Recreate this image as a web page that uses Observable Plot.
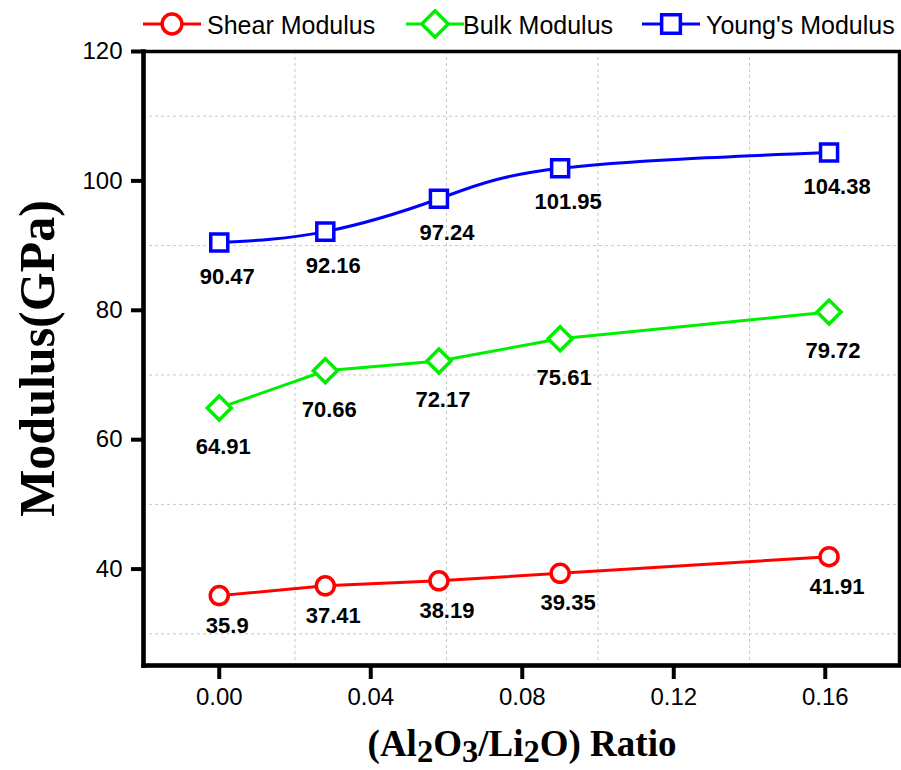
<!DOCTYPE html>
<html><head><meta charset="utf-8">
<script src="https://cdn.jsdelivr.net/npm/d3@7"></script>
<script src="https://cdn.jsdelivr.net/npm/@observablehq/plot@0.6"></script>
<style>
body{margin:0;background:#fff;}
#wrap{position:relative;width:901px;height:770px;overflow:hidden;font-family:"Liberation Sans",Arial,sans-serif;background:#fff;}
#wrap > svg.plot{position:absolute;left:0;top:0;}
.legsym{position:absolute;top:10px;}
.legtxt{position:absolute;top:10px;font-size:25px;line-height:30px;color:#000;white-space:nowrap;}
#xtitle{position:absolute;left:522px;top:725px;transform:translateX(-50%);font-family:"Liberation Serif",serif;font-weight:bold;font-size:37px;line-height:1;white-space:nowrap;color:#000;}
#xtitle .s{display:inline-block;line-height:0.7;position:relative;top:6px;font-size:0.88em;}
</style></head>
<body><div id="wrap"></div>
<script>
// ---- data ----
const ratio = [0, 0.028, 0.058, 0.09, 0.161];
const shear = [35.9, 37.41, 38.19, 39.35, 41.91];
const bulk = [64.91, 70.66, 72.17, 75.61, 79.72];
const young = [90.47, 92.16, 97.24, 101.95, 104.38];
const seriesNames = ["Shear Modulus", "Bulk Modulus", "Young's Modulus"];
const xTicks = [0, 0.04, 0.08, 0.12, 0.16];
const yTicks = [40, 60, 80, 100, 120];
const xGrid = [0.02, 0.06, 0.10, 0.14];
const yGrid = [30, 50, 70, 90, 110];
const yTitle = "Modulus(GPa)";

// ---- styles ----
const styles = [
  {color: "#ff0000", symbol: "circle", r: 9, curve: "linear", dx: 8, dy: 30, legLeft: 143, txtLeft: 207},
  {color: "#00ee00", symbol: "diamond2", r: 10.8, curve: "linear", dx: 4, dy: 39, legLeft: 406, txtLeft: 463},
  {color: "#0000ff", symbol: "square", r: 9.6, curve: "natural", dx: 8, dy: 34, legLeft: 642, txtLeft: 706}
];
const seriesValues = [shear, bulk, young];

const rows = [];
seriesValues.forEach((vals, s) => vals.forEach((v, i) => rows.push({x: ratio[i], y: v, s})));

const marks = [
  Plot.ruleX(xGrid, {stroke: "#c8c8c8", strokeDasharray: "3,3", strokeWidth: 1}),
  Plot.ruleY(yGrid, {stroke: "#c8c8c8", strokeDasharray: "3,3", strokeWidth: 1}),
  Plot.axisX({ticks: xTicks, tickSize: 14, tickPadding: 8, fontSize: 24, strokeWidth: 4, tickFormat: d => d.toFixed(2), label: null}),
  Plot.axisY({ticks: yTicks, tickSize: 12, tickPadding: 9, fontSize: 24, strokeWidth: 4, label: null}),
];
styles.forEach((st, s) => {
  const d = rows.filter(r => r.s === s);
  marks.push(Plot.line(d, {x: "x", y: "y", stroke: st.color, strokeWidth: 3, curve: st.curve}));
});
styles.forEach((st, s) => {
  const d = rows.filter(r => r.s === s);
  marks.push(Plot.dot(d, {x: "x", y: "y", symbol: st.symbol, r: st.r, stroke: st.color, fill: "white", strokeWidth: 3.5}));
  marks.push(Plot.text(d, {x: "x", y: "y", text: r => String(r.y), dx: st.dx, dy: st.dy, lineAnchor: "middle", fontSize: 22, fontWeight: "bold", fill: "black"}));
});
marks.push(Plot.frame({stroke: "black", strokeWidth: 3.5}));
marks.push(Plot.frame({anchor: "left", stroke: "black", strokeWidth: 4.5}));
marks.push(Plot.frame({anchor: "bottom", stroke: "black", strokeWidth: 4.5}));
marks.push(Plot.text([yTitle], {frameAnchor: "left", dx: -106, rotate: -90, text: d => d, fontSize: 50, fontFamily: "Liberation Serif, serif", fontWeight: "bold", textAnchor: "middle", lineAnchor: "middle", fill: "black"}));

const chart = Plot.plot({
  width: 901, height: 770,
  marginLeft: 143, marginRight: 2, marginTop: 51, marginBottom: 105,
  x: {domain: [-0.02, 0.1796]},
  y: {domain: [25.1, 120]},
  style: {fontFamily: "Liberation Sans, Arial, sans-serif", background: "transparent", color: "black", overflow: "visible"},
  marks
});
chart.classList.add("plot");
const wrap = document.getElementById("wrap");
wrap.appendChild(chart);

// ---- legend ----
const ns = "http://www.w3.org/2000/svg";
styles.forEach((st, s) => {
  const svg = document.createElementNS(ns, "svg");
  svg.setAttribute("width", 58); svg.setAttribute("height", 30);
  svg.setAttribute("class", "legsym");
  svg.style.left = st.legLeft + "px";
  svg.style.top = "9px";
  const ln = document.createElementNS(ns, "line");
  ln.setAttribute("x1", 0); ln.setAttribute("x2", 58); ln.setAttribute("y1", 15); ln.setAttribute("y2", 15);
  ln.setAttribute("stroke", st.color); ln.setAttribute("stroke-width", 3);
  svg.appendChild(ln);
  const sym = {circle: d3.symbolCircle, diamond2: d3.symbolDiamond2, square: d3.symbolSquare}[st.symbol];
  const p = document.createElementNS(ns, "path");
  const rr = st.r * 1.1;
  p.setAttribute("d", d3.symbol(sym, Math.PI * rr * rr)());
  p.setAttribute("transform", "translate(29,15)");
  p.setAttribute("fill", "white"); p.setAttribute("stroke", st.color); p.setAttribute("stroke-width", 3.5);
  svg.appendChild(p);
  wrap.appendChild(svg);
  const t = document.createElement("div");
  t.className = "legtxt";
  t.style.left = st.txtLeft + "px";
  t.textContent = seriesNames[s];
  wrap.appendChild(t);
});

// ---- x title ----
const xt = document.createElement("div");
xt.id = "xtitle";
xt.innerHTML = '(Al<span class="s">2</span>O<span class="s">3</span>/Li<span class="s">2</span>O) Ratio';
wrap.appendChild(xt);
</script>
</body></html>
